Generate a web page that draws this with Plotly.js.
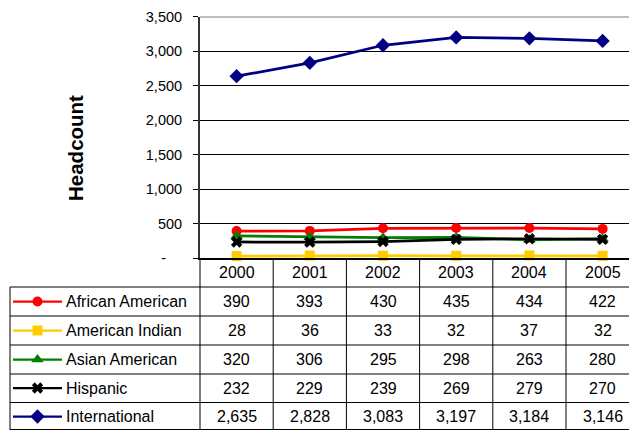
<!DOCTYPE html>
<html>
<head>
<meta charset="utf-8">
<script src="https://cdn.plot.ly/plotly-3.0.1.min.js"></script>
<style>
html, body { margin: 0; padding: 0; overflow: hidden; background: #fff; }
#wrap { width: 629px; height: 430px; overflow: hidden; }
#chart { width: 640px; height: 430px; }
</style>
</head>
<body>
<div id="wrap"><div id="chart"></div></div>
<script>
// ---- data ----
const years = ['2000', '2001', '2002', '2003', '2004', '2005'];
const seriesNames = ['African American', 'American Indian', 'Asian American', 'Hispanic', 'International'];
const africanAmerican = [390, 393, 430, 435, 434, 422];
const americanIndian = [28, 36, 33, 32, 37, 32];
const asianAmerican = [320, 306, 295, 298, 263, 280];
const hispanic = [232, 229, 239, 269, 279, 270];
const international = [2635, 2828, 3083, 3197, 3184, 3146];
const yTickVals = [0, 500, 1000, 1500, 2000, 2500, 3000, 3500];
const yTickText = ['-\u00a0\u00a0\u00a0\u00a0', '500', '1,000', '1,500', '2,000', '2,500', '3,000', '3,500'];
const yTitle = 'Headcount';

// ---- styles ----
const seriesValues = [africanAmerican, americanIndian, asianAmerican, hispanic, international];
const colors = ['#FF0000', '#FFCC00', '#008000', '#000000', '#000080'];
const symbols = ['circle', 'square', 'triangle-up', 'x', 'diamond'];
const sizes = [10, 10, 11, 10, 11];
const FONT = 'Arial, "Liberation Sans", sans-serif';

const W = 640, H = 430;
const px = x => x / W;
const py = y => 1 - y / H;

const plotLeft = 200, colW = 73.2, plotTop = 16.5, plotBottom = 258;
const rowLines = [287, 316, 345, 374, 402.5, 429.5];
const rowCenters = [301.5, 330.5, 359.5, 388, 416.5];
const headerCenter = 272.5;

const traces = [];
seriesValues.forEach((vals, s) => {
  traces.push({
    type: 'scatter', mode: 'lines+markers', x: years, y: vals,
    name: seriesNames[s], xaxis: 'x', yaxis: 'y', cliponaxis: false,
    line: { color: colors[s], width: 2.75 },
    marker: { color: colors[s], symbol: symbols[s], size: sizes[s], line: { width: 0 } },
    hoverinfo: 'skip'
  });
});
// legend keys in the table (overlay axes in pixel units)
seriesValues.forEach((vals, s) => {
  traces.push({
    type: 'scatter', mode: 'lines', x: [13, 62], y: [rowCenters[s], rowCenters[s]],
    xaxis: 'x2', yaxis: 'y2', showlegend: false, hoverinfo: 'skip', cliponaxis: false,
    line: { color: colors[s], width: 2.25 }
  });
  traces.push({
    type: 'scatter', mode: 'markers', x: [37.5], y: [rowCenters[s]],
    xaxis: 'x2', yaxis: 'y2', showlegend: false, hoverinfo: 'skip', cliponaxis: false,
    marker: { color: colors[s], symbol: symbols[s], size: sizes[s], line: { width: 0 } }
  });
});

const shapes = [];
const annotations = [];
const lineStyle = { color: '#000', width: 1 };
// horizontal table lines
rowLines.forEach(y => {
  shapes.push({ type: 'line', xref: 'paper', yref: 'paper', x0: px(10), x1: 1, y0: py(y), y1: py(y), line: lineStyle });
});
// left border of legend column
shapes.push({ type: 'line', xref: 'paper', yref: 'paper', x0: px(10), x1: px(10), y0: py(rowLines[0]), y1: 0, line: lineStyle });
// left border of data columns
shapes.push({ type: 'line', xref: 'paper', yref: 'paper', x0: px(plotLeft), x1: px(plotLeft), y0: py(plotBottom), y1: 0, line: lineStyle });
// column separators
for (let i = 0; i < years.length - 1; i++) {
  shapes.push({ type: 'line', xref: 'x', yref: 'paper', x0: i + 0.5, x1: i + 0.5, y0: py(plotBottom), y1: 0, line: lineStyle });
}
// top border of plot area
shapes.push({ type: 'line', xref: 'paper', yref: 'y', x0: px(plotLeft), x1: 1, y0: 3500, y1: 3500, line: { color: '#808080', width: 2 } });

// header years
years.forEach((yr, i) => {
  annotations.push({ xref: 'x', yref: 'paper', x: i, y: py(headerCenter), text: yr, showarrow: false,
    xanchor: 'center', yanchor: 'middle', font: { family: FONT, size: 16, color: '#000' } });
});
// cell values and labels
seriesValues.forEach((vals, s) => {
  annotations.push({ xref: 'paper', yref: 'paper', x: px(64), y: py(rowCenters[s]), text: seriesNames[s], showarrow: false,
    xanchor: 'left', yanchor: 'middle', font: { family: FONT, size: 16, color: '#000' } });
  vals.forEach((v, i) => {
    annotations.push({ xref: 'x', yref: 'paper', x: i, y: py(rowCenters[s]), text: v.toLocaleString('en-US'), showarrow: false,
      xanchor: 'center', yanchor: 'middle', font: { family: FONT, size: 16, color: '#000' } });
  });
});
// y title
annotations.push({ xref: 'paper', yref: 'paper', x: px(75), y: py(148), text: '<b>' + yTitle + '</b>', textangle: -90,
  showarrow: false, xanchor: 'center', yanchor: 'middle', font: { family: FONT, size: 20.5, color: '#000' } });

const layout = {
  width: W, height: H,
  margin: { l: 0, r: 0, t: 0, b: 0, pad: 0 },
  paper_bgcolor: '#fff', plot_bgcolor: 'rgba(0,0,0,0)',
  showlegend: false,
  font: { family: FONT, color: '#000' },
  xaxis: {
    type: 'category', domain: [px(plotLeft), px(plotLeft + 6 * colW)], range: [-0.5, 5.5],
    showgrid: false, zeroline: false, showticklabels: false, ticks: '',
    showline: true, linecolor: '#000', linewidth: 2, anchor: 'y', fixedrange: true
  },
  yaxis: {
    domain: [py(plotBottom), py(plotTop)], range: [0, 3500],
    tickvals: yTickVals, ticktext: yTickText,
    tickfont: { family: FONT, size: 14.5, color: '#000' },
    ticks: 'outside', ticklen: 5, tickcolor: '#000', tickwidth: 1, ticklabelstandoff: 8,
    showgrid: true, gridcolor: '#000', gridwidth: 1, zeroline: false,
    showline: true, linecolor: '#333', linewidth: 2, anchor: 'x', fixedrange: true
  },
  xaxis2: { domain: [0, 1], range: [0, W], visible: false, anchor: 'y2', fixedrange: true },
  yaxis2: { domain: [0, 1], range: [H, 0], visible: false, anchor: 'x2', fixedrange: true },
  shapes: shapes,
  annotations: annotations
};

Plotly.newPlot('chart', traces, layout, { staticPlot: true, displayModeBar: false });
</script>
</body>
</html>
